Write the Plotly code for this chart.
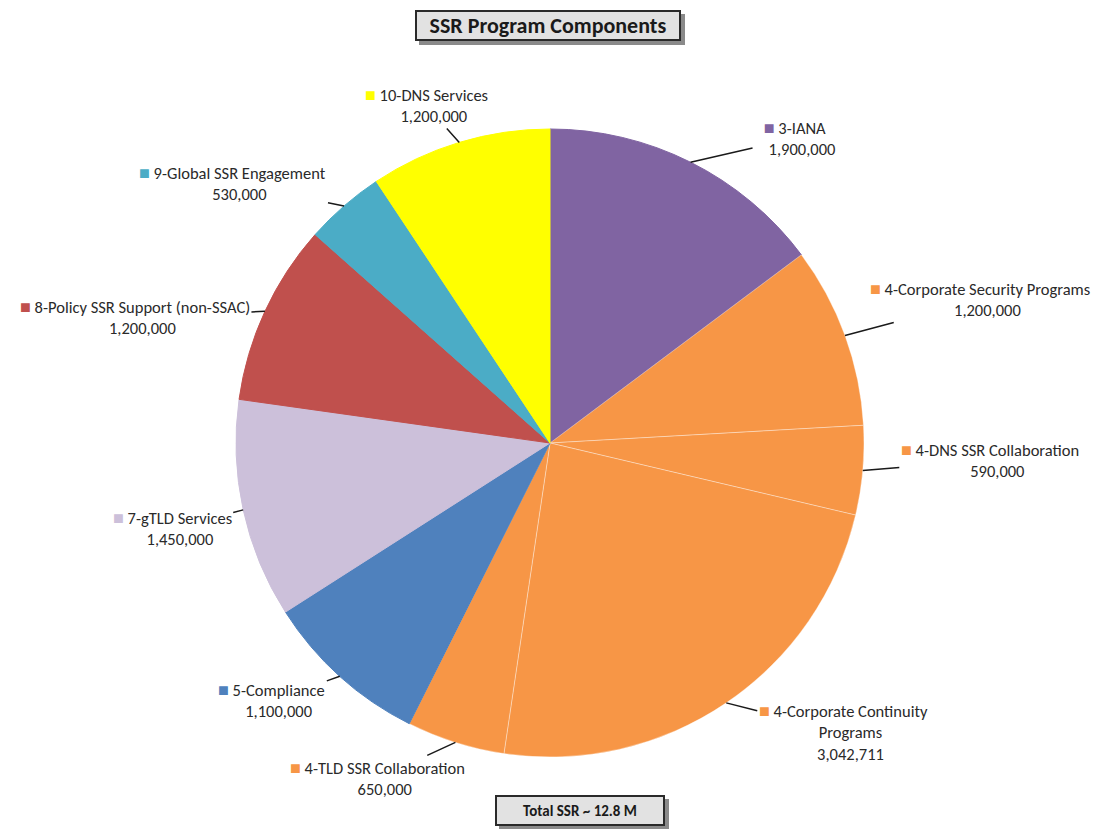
import math
import plotly.graph_objects as go

# ---- data ----
labels = ["3-IANA", "4-Corporate Security Programs", "4-DNS SSR Collaboration",
          "4-Corporate Continuity Programs", "4-TLD SSR Collaboration", "5-Compliance",
          "7-gTLD Services", "8-Policy SSR Support (non-SSAC)", "9-Global SSR Engagement",
          "10-DNS Services"]
label_text = ["3-IANA", "4-Corporate Security Programs", "4-DNS SSR Collaboration",
              "4-Corporate Continuity<br>Programs", "4-TLD SSR Collaboration", "5-Compliance",
              "7-gTLD Services", "8-Policy SSR Support (non-SSAC)", "9-Global SSR Engagement",
              "10-DNS Services"]
values = [1900000, 1200000, 590000, 3042711, 650000, 1100000, 1450000, 1200000, 530000, 1200000]
colors = ["#8064A2", "#F79646", "#F79646", "#F79646", "#F79646", "#4F81BD",
          "#CCC0DA", "#C0504D", "#4BACC6", "#FFFF00"]
title_text = "SSR Program Components"
total_text = "Total SSR ~ 12.8 M"

# ---- layout styling ----
W, H = 1097, 829
cx, cy, R = 550, 443, 314   # pie center / radius in pixels
# label offsets (pixels) from the slice edge point to the label centre
offsets = [(104, -24), (135, -36), (127, -10), (117, 30), (-78, 36),
           (-68, 24), (-71, 19), (-130, 6), (-111, -23), (-33, -37)]
FONT = "Carlito, Lato, Open Sans, sans-serif"

line_colors = ["rgba(255,255,255,0.35)" if c == "#F79646" else c for c in colors]

fig = go.Figure(go.Pie(
    labels=labels, values=values, sort=False, direction="clockwise", rotation=0,
    marker=dict(colors=colors, line=dict(color=line_colors, width=1)),
    textinfo="none", hoverinfo="label+value", showlegend=False,
    domain=dict(x=[(cx - R) / W, (cx + R) / W], y=[1 - (cy + R) / H, 1 - (cy - R) / H]),
))

total = sum(values)
cum = 0
annotations = []
for lab, val, col, (ox, oy) in zip(label_text, values, colors, offsets):
    mid = (cum + val / 2) / total * 2 * math.pi
    cum += val
    px = cx + R * math.sin(mid)
    py = cy - R * math.cos(mid)
    sq = f"<span style='color:{col};font-size:18px'>■</span> "
    blank = "<span style='color:rgba(0,0,0,0);font-size:18px'>■</span> "
    lines = lab.split("<br>")
    txt = sq + lines[0] + "".join("<br>" + blank + l for l in lines[1:]) + "<br>" + blank + f"{val:,}"
    annotations.append(dict(
        x=px / W, y=1 - py / H, xref="paper", yref="paper",
        ax=ox, ay=oy, axref="pixel", ayref="pixel",
        text=txt, showarrow=True, arrowhead=0, arrowwidth=1.5, arrowcolor="#1a1a1a",
        standoff=0, startstandoff=0, align="center",
        font=dict(family=FONT, size=16.5, color="#2a2a2a"),
    ))

# title / total boxes with drop shadows
shapes = [
    dict(type="rect", xref="paper", yref="paper", x0=419 / W, x1=685 / W,
         y0=1 - 45 / H, y1=1 - 14 / H, fillcolor="#8a8a8a", line=dict(width=0), layer="below"),
    dict(type="rect", xref="paper", yref="paper", x0=499 / W, x1=669 / W,
         y0=1 - 830 / H, y1=1 - 799 / H, fillcolor="#8a8a8a", line=dict(width=0), layer="below"),
]
annotations.append(dict(
    x=548 / W, y=1 - 25.5 / H, xref="paper", yref="paper", showarrow=False,
    xanchor="center", yanchor="middle",
    text=f"<b>{title_text}</b>", bgcolor="#e2e2e2", bordercolor="#2a2a2a", borderwidth=2,
    borderpad=1, width=260, height=25,
    font=dict(family=FONT, size=22, color="#1a1a1a"),
))
annotations.append(dict(
    x=580 / W, y=1 - 810.5 / H, xref="paper", yref="paper", showarrow=False,
    xanchor="center", yanchor="middle",
    text=f"<b>{total_text}</b>", bgcolor="#e2e2e2", bordercolor="#2a2a2a", borderwidth=2,
    borderpad=1, width=164, height=25,
    font=dict(family=FONT, size=15, color="#1a1a1a"),
))

fig.update_layout(
    width=W, height=H, margin=dict(l=0, r=0, t=0, b=0),
    paper_bgcolor="white", plot_bgcolor="white",
    annotations=annotations, shapes=shapes,
)
fig.write_html("out.html", config={"displayModeBar": False},
               post_script="document.body.style.margin='0';document.body.style.overflow='hidden';")
